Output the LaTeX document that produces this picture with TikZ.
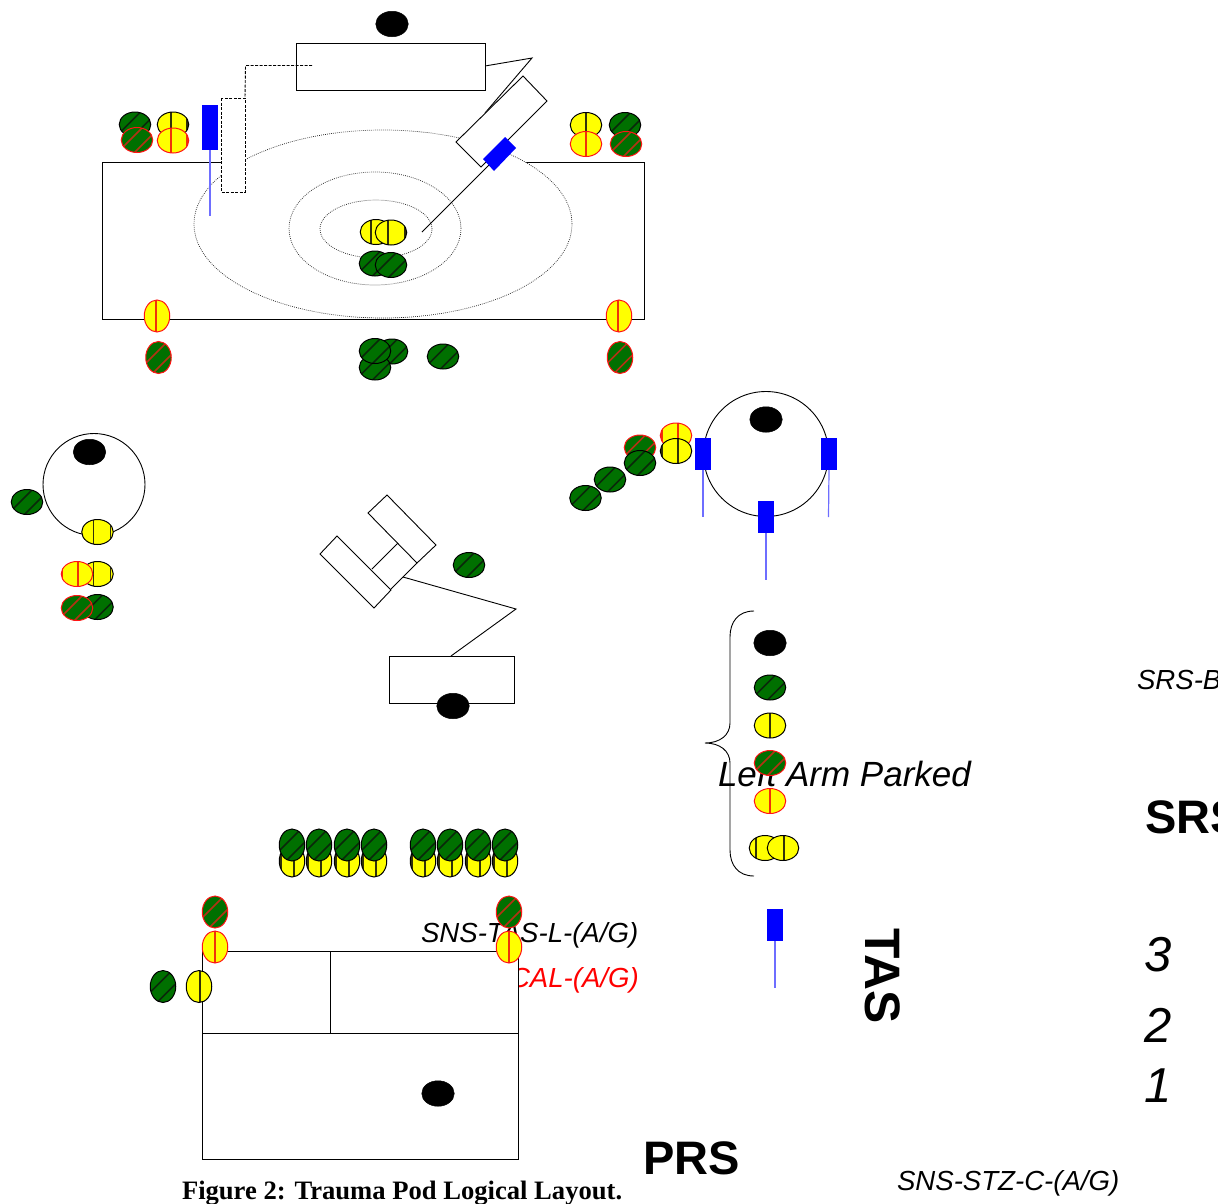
\documentclass[tikz,border=0pt]{standalone}
\usepackage{fontspec}
\setmainfont{Liberation Sans}
\newfontfamily\capfont{Liberation Serif}
\usetikzlibrary{shapes.geometric}
\definecolor{podgreen}{RGB}{0,112,0}
\definecolor{podyellow}{RGB}{255,255,0}
\definecolor{podred}{RGB}{255,20,20}
\definecolor{podblue}{RGB}{0,0,255}
\definecolor{pinblue}{RGB}{110,110,255}
\definecolor{strG}{RGB}{10,40,10}
\definecolor{strY}{RGB}{50,50,10}
\definecolor{strGR}{RGB}{180,50,20}
\definecolor{strYR}{RGB}{240,50,10}
\tikzset{
  x=1pt,y=-1pt,
  every node/.style={inner sep=0pt,outer sep=0pt},
  hz/.style={ellipse,minimum width=31.5pt,minimum height=25pt},
  vt/.style={ellipse,minimum width=25.5pt,minimum height=32pt},
  K/.style={ellipse,fill=black,draw=black,line width=0.5pt,minimum width=32.5pt,minimum height=25.5pt},
  G/.style={fill=podgreen,draw=black,line width=1pt,path picture={
    \draw[strG,line width=1.6pt] ([shift={(-19,12)}]path picture bounding box.center) -- ([shift={(12,-19)}]path picture bounding box.center);
    \draw[strG,line width=1.6pt] ([shift={(-10,20)}]path picture bounding box.center) -- ([shift={(20,-10)}]path picture bounding box.center);}},
  GR/.style={fill=podgreen,draw=podred,line width=1pt,path picture={
    \draw[strGR,line width=1.6pt] ([shift={(-19,12)}]path picture bounding box.center) -- ([shift={(12,-19)}]path picture bounding box.center);
    \draw[strGR,line width=1.6pt] ([shift={(-10,20)}]path picture bounding box.center) -- ([shift={(20,-10)}]path picture bounding box.center);}},
  Y/.style 2 args={fill=podyellow,draw=black,line width=1pt,path picture={
    \draw[strY,line width=1.6pt] ([shift={(#1,-20)}]path picture bounding box.center) -- ([shift={(#1,20)}]path picture bounding box.center);
    \draw[strY,line width=1.6pt] ([shift={(#2,-20)}]path picture bounding box.center) -- ([shift={(#2,20)}]path picture bounding box.center);}},
  YR/.style 2 args={fill=podyellow,draw=podred,line width=1pt,path picture={
    \draw[strYR,line width=1.6pt] ([shift={(#1,-20)}]path picture bounding box.center) -- ([shift={(#1,20)}]path picture bounding box.center);
    \draw[strYR,line width=1.6pt] ([shift={(#2,-20)}]path picture bounding box.center) -- ([shift={(#2,20)}]path picture bounding box.center);}},
  pin/.style={fill=podblue,draw=none,minimum width=16.5pt,minimum height=32pt},
  pinline/.style={pinblue,line width=1.2pt},
  ln/.style={draw=black,line width=0.9pt},
  wbox/.style={draw=black,line width=0.9pt,fill=white},
  dot/.style={draw=black!85,line width=0.7pt,dash pattern=on 0.8pt off 1.2pt,fill=white},
  dsh/.style={draw=black,line width=0.9pt,dash pattern=on 3pt off 1.5pt},
  lab/.style={anchor=base west,font=\fontsize{27.6}{27.6}\selectfont\itshape},
  big/.style={anchor=base west,font=\fontsize{47}{47}\selectfont\bfseries},
  num/.style={anchor=base west,font=\fontsize{49}{49}\selectfont\itshape},
}
\begin{document}
\begin{tikzpicture}
\useasboundingbox (0,0) rectangle (1218,1203);
\clip (0,0) rectangle (1218,1203);
% ---------- top scene
\node[K] (topK) at (392,24) {};
\coordinate (tabA) at (102.7,162); \coordinate (tabB) at (644,319.5);
\draw[ln] (tabA) rectangle (tabB);
\node[ellipse,dot,minimum width=378pt,minimum height=188pt] (ring1) at (383,224) {};
\node[ellipse,dot,minimum width=172pt,minimum height=113pt] (ring2) at (375,228.5) {};
\node[ellipse,dot,minimum width=112pt,minimum height=58pt] (ring3) at (376,229) {};
\coordinate (armA) at (485,66); \coordinate (armB) at (532,58); \coordinate (armC) at (485,113);
\draw[ln] (armA) -- (armB) -- (armC);
\draw[wbox] (296,43) rectangle (485,90);
\draw[wbox] (523,76) -- (547,101) -- (481,167) -- (456,142) -- cycle;
\coordinate (probeEnd) at (422,232); \coordinate (probeTop) at (490,164);
\draw[ln] (probeTop) -- (probeEnd);
\fill[podblue] (505,137) -- (516,148) -- (494,171) -- (483,159) -- cycle;
\coordinate (dashA) at (312,65.5); \coordinate (dashB) at (245.5,65.5); \coordinate (dashC) at (245,98);
\draw[dsh] (dashA) -- (dashB) -- (dashC);
\draw[dsh,fill=white] (221,98) rectangle (245,192);
\node[pin,minimum height=45pt] (pinT) at (210,127.5) {};
\coordinate (pinTe) at (210,216);
\draw[pinline] (pinT.south) -- (pinTe);
\node[hz,G] (a1) at (135,124.5) {};
\node[hz,GR] (a2) at (137,140) {};
\node[hz,Y={-2}{14}] (a3) at (173,124.5) {};
\node[hz,YR={-2}{14}] (a4) at (173,140.5) {};
\node[hz,Y={0}{-40}] (a5) at (586,125) {};
\node[hz,G] (a6) at (625,125) {};
\node[hz,YR={0}{-40}] (a7) at (586,144) {};
\node[hz,GR] (a8) at (626,144) {};
\node[hz,Y={-5}{11}] (c1) at (376,232) {};
\node[hz,Y={-3}{14}] (c2) at (391,232.5) {};
\node[hz,G] (c3) at (375,263.5) {};
\node[hz,G] (c4) at (391,265) {};
\node[vt,YR={-1}{-40}] (b1) at (157,316) {};
\node[vt,GR] (b2) at (158.5,357.5) {};
\node[vt,YR={-1}{-40}] (b3) at (619,316) {};
\node[vt,GR] (b4) at (620,357.5) {};
\node[hz,G] (b5) at (392,351.5) {};
\node[hz,G] (b6) at (375,367.5) {};
\node[hz,G] (b7) at (375,351) {};
\node[hz,G] (b8) at (443,356.5) {};
% ---------- right circle
\node[circle,draw=black,line width=0.9pt,minimum size=125pt] (circR) at (766,454) {};
\node[K] (circRK) at (766,419.5) {};
\node[pin] (pinA) at (703,454) {}; \coordinate (pinAe) at (703,517);
\node[pin] (pinB) at (829,454) {}; \coordinate (pinBe) at (828.5,517);
\node[pin] (pinC) at (766,517) {}; \coordinate (pinCe) at (766,580);
\draw[pinline] (pinA.south) -- (pinAe);
\draw[pinline] (pinB.south) -- (pinBe);
\draw[pinline] (pinC.south) -- (pinCe);
\node[hz,YR={2}{-14}] (r1) at (676,435.5) {};
\node[hz,Y={2}{-14}] (r2) at (676,451) {};
\node[hz,GR] (r3) at (640,447.5) {};
\node[hz,G] (r4) at (640,463) {};
\node[hz,G] (r5) at (610,479.5) {};
\node[hz,G] (r6) at (585.5,498) {};
% ---------- left circle
\node[circle,draw=black,line width=0.9pt,minimum size=102pt] (circL) at (94,484.5) {};
\node[K] (circLK) at (89.5,452) {};
\node[hz,G] (l1) at (27,502) {};
\node[hz,Y={-4}{13}] (l2) at (97.5,532) {};
\node[hz,Y={-4}{13}] (l3) at (97.5,574) {};
\node[hz,YR={1}{-15}] (l4) at (77,574) {};
\node[hz,G] (l5) at (97.5,607) {};
\node[hz,GR] (l6) at (77,608) {};
% ---------- middle scene
\draw[ln] (387,495) -- (436,545) -- (417,563) -- (368,513) -- cycle;
\draw[ln] (337,536) -- (391,590) -- (374,608) -- (320,554) -- cycle;
\draw[ln] (398,543) -- (372,569);
\draw[ln] (417,563) -- (391,589);
\node[draw=black,line width=0.9pt,minimum width=125pt,minimum height=47pt] (midbox) at (451.5,679.5) {};
\coordinate (elbowA) at (403,577); \coordinate (elbowB) at (516,609); \coordinate (elbowC) at (451,656);
\draw[ln] (elbowA) -- (elbowB) -- (elbowC);
\node[K] (midK) at (453,706) {};
\node[hz,G] (m1) at (469,565) {};
% ---------- brace and text under its ellipses
\coordinate (brTop) at (754,611); \coordinate (brTip) at (705,743); \coordinate (brBot) at (754,876);
\draw[ln] (brTop) .. controls (738,611) and (730,622) .. (730,637) -- (730,723)
  .. controls (730,735) and (720,743) .. (brTip)
  .. controls (720,743) and (730,751) .. (730,763) -- (730,850)
  .. controls (730,865) and (738,876) .. (brBot);
\node[anchor=base west,font=\fontsize{35}{35}\selectfont\itshape] (parked) at (718,786.5) {Left Arm Parked};
\node[K] (legK) at (770,643) {};
\node[hz,G] (leg1) at (770,687.5) {};
\node[hz,Y={0}{-40}] (leg2) at (770,725.5) {};
\node[hz,GR] (leg3) at (770,763) {};
\node[hz,YR={0}{-40}] (leg4) at (770,801) {};
\node[hz,Y={-9}{-30}] (leg5) at (765,848) {};
\node[hz,Y={1}{-40}] (leg6) at (783,848) {};
\node[pin] (pinD) at (775,925) {}; \coordinate (pinDe) at (775,988);
\draw[pinline] (pinD.south) -- (pinDe);
% ---------- labels
\node[lab] (sns) at (421,942.5) {SNS-TAS-L-(A/G)};
\node[lab,text=red] (cal) at (510,987.5) {CAL-(A/G)};
\node[lab] (srsb) at (1137,689) {SRS-B};
\node[lab] (stz) at (897,1190.5) {SNS-STZ-C-(A/G)};
\node[big] (srs) at (1145,833) {SRS};
\node[big] (prs) at (643,1174.5) {PRS};
\node[big,font=\fontsize{49.8}{49.8}\selectfont\bfseries,rotate=-90] (tas) at (865,928) {TAS};
\node[num] (n3) at (1144.5,971) {3};
\node[num] (n2) at (1144.5,1042) {2};
\node[num] (n1) at (1144.5,1102) {1};
\node[anchor=base west,font=\fontsize{26.6}{26.6}\selectfont\capfont\bfseries] (cap) at (182,1199) {Figure 2: Trauma Pod Logical Layout.};
% ---------- bottom pod
\draw[wbox] (202,951) rectangle (518,1159);
\draw[ln] (202,1033) -- (518,1033);
\draw[ln] (330,951) -- (330,1033);
\node[K] (botK) at (438,1093.5) {};
\foreach \n/\px in {1/292,2/319,3/347,4/374,5/423,6/450,7/478,8/505}{
  \node[vt,Y={2}{-11}] (sy\n) at (\px,861) {};
  \node[vt,G] (sg\n) at (\px,845) {};
}
\node[vt,GR] (p1) at (215,912) {};
\node[vt,YR={0}{-40}] (p2) at (215,947) {};
\node[vt,GR] (p3) at (509,912) {};
\node[vt,YR={0}{-40}] (p4) at (509,947) {};
\node[vt,G] (p5) at (163,986.5) {};
\node[vt,Y={1}{-40}] (p6) at (199,986.5) {};
\end{tikzpicture}
\end{document}
